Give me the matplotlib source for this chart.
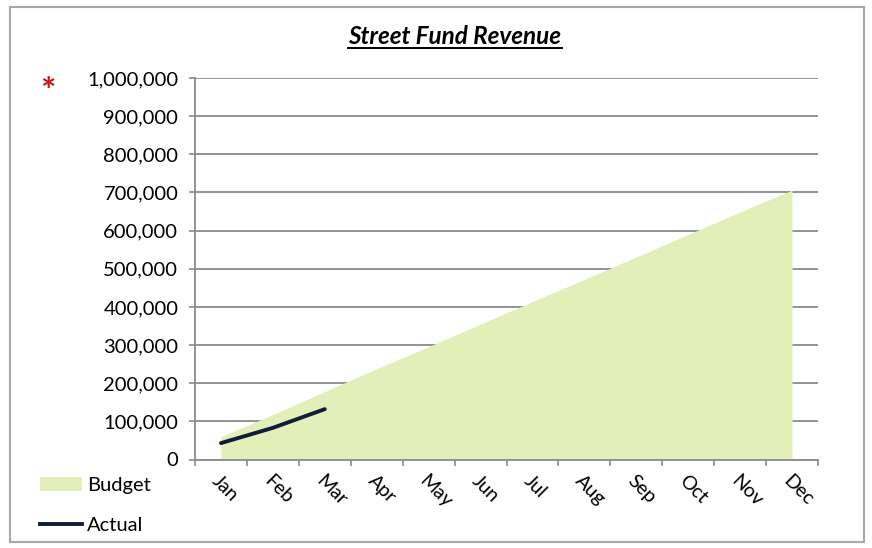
import numpy as np
import matplotlib.pyplot as plt
from matplotlib.patches import Rectangle, Patch
from matplotlib.lines import Line2D
from matplotlib.ticker import FuncFormatter

months = ['Jan', 'Feb', 'Mar', 'Apr', 'May', 'Jun',
          'Jul', 'Aug', 'Sep', 'Oct', 'Nov', 'Dec']
budget = [60000, 118000, 178000, 238000, 296000, 355000,
          414000, 472000, 531000, 590000, 649000, 706000]
actual = [43000, 83000, 132000]

plt.rcParams['font.family'] = ['Lato', 'DejaVu Sans']

fig = plt.figure(figsize=(8.72, 5.48), dpi=100)
ax = fig.add_axes([195/872, 1 - 459.5/548, 623/872, 381.5/548])

x = np.arange(len(months))
ax.fill_between(x, 0, budget, color='#e3efb9', lw=0, zorder=2)
ax.plot(x[:len(actual)], actual, color='#0f1d38', lw=2.8,
        solid_capstyle='round', zorder=3)

ax.set_xlim(-0.5, 11.5)
ax.set_ylim(0, 1000000)
ax.set_yticks(np.arange(0, 1000001, 100000))
ax.yaxis.set_major_formatter(FuncFormatter(lambda v, p: f'{int(v):,}'))
ax.yaxis.grid(True, color='#8a8a8a', lw=1.3, zorder=1)
ax.set_axisbelow(True)

ax.set_xticks(x)
ax.set_xticklabels(months, rotation=-45, ha='left', va='top',
                   rotation_mode='anchor', fontsize=14)
ax.set_xticks(np.arange(-0.5, 12, 1), minor=True)
ax.tick_params(axis='x', which='major', length=0, pad=9)
ax.tick_params(axis='x', which='minor', length=4, color='#8a8a8a', width=1.2)
ax.tick_params(axis='y', length=4, color='#8a8a8a', width=1.2,
               labelsize=14.5, pad=8)
for lbl in ax.get_xticklabels():
    lbl.set_x(0)

for s in ['top', 'right']:
    ax.spines[s].set_visible(False)
for s in ['left', 'bottom']:
    ax.spines[s].set_color('#8a8a8a')
    ax.spines[s].set_linewidth(1.3)

fig.text(455/872, 1 - 36/548, 'Street Fund Revenue', ha='center', va='center',
         fontsize=17.5, fontweight='bold', style='italic')
fig.add_artist(Line2D([348/872, 562/872], [1 - 48/548, 1 - 48/548],
                      color='black', lw=1.4))

fig.text(48/872, 1 - 92/548, '*', color='#d01010', ha='center', va='center',
         fontsize=26, fontweight='bold')

handles = [Patch(facecolor='#e3efb9', edgecolor='none', label='Budget'),
           Line2D([], [], color='#0f1d38', lw=2.8, label='Actual')]
fig.legend(handles=handles, loc='lower left', bbox_to_anchor=(40/872, 14/548),
           frameon=False, fontsize=14.5, handlelength=2.1, handletextpad=0.25,
           labelspacing=1.15, borderpad=0, borderaxespad=0)

fig.add_artist(Rectangle((10/872, 6/548), 854/872, 535/548,
                         transform=fig.transFigure, fill=False,
                         edgecolor='#a8a8a8', lw=1.5))

fig.savefig('out.png', dpi=100)
